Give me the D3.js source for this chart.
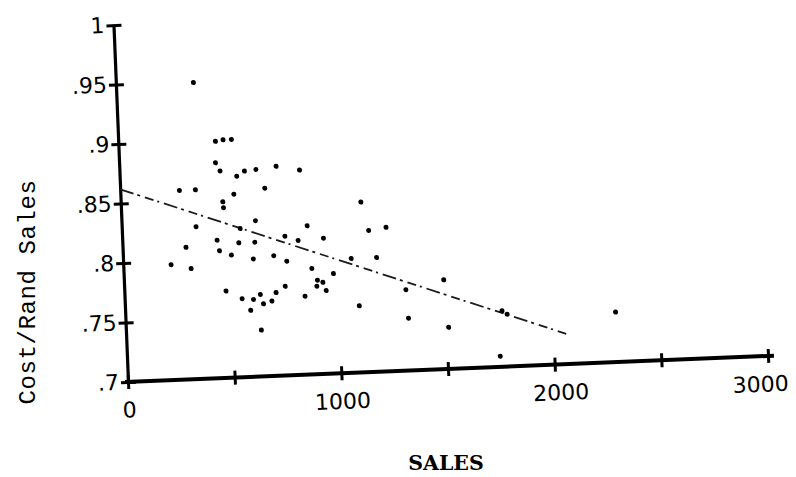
<!DOCTYPE html>
<html>
<head>
<meta charset="utf-8">
<script src="https://cdn.jsdelivr.net/npm/d3@7"></script>
<style>
  html, body { margin: 0; padding: 0; background: #fff; }
  svg { display: block; }
</style>
</head>
<body>
<script>
// Sales figures for each outlet and the matching cost per rand of sales
const sales = [
  363, 455, 491, 530, 451, 471, 548, 585, 639, 734,
  843, 277, 352, 531, 677, 478, 480, 627, 348, 554,
  868, 762, 823, 942, 444, 545, 620, 297, 453, 508,
  610, 706, 766, 224, 317, 882, 982, 906, 931, 902,
  945, 476, 754, 710, 636, 550, 603, 689, 649, 845,
  588, 634, 1124, 1155, 1237, 1068, 1187, 1497, 1318, 1097,
  1325, 1511, 1764, 1787, 1747, 2295
];
const costRatio = [
  0.949, 0.899, 0.900, 0.900, 0.881, 0.874, 0.869, 0.873, 0.874, 0.876,
  0.872, 0.859, 0.859, 0.854, 0.858, 0.848, 0.843, 0.831, 0.828, 0.825,
  0.825, 0.817, 0.813, 0.814, 0.816, 0.813, 0.813, 0.811, 0.807, 0.803,
  0.799, 0.801, 0.796, 0.797, 0.793, 0.789, 0.784, 0.779, 0.777, 0.774,
  0.770, 0.773, 0.775, 0.770, 0.769, 0.766, 0.765, 0.763, 0.761, 0.766,
  0.756, 0.739, 0.843, 0.819, 0.821, 0.796, 0.796, 0.775, 0.768, 0.756,
  0.744, 0.735, 0.747, 0.744, 0.709, 0.742
];

// Fitted regression line (endpoints in data units)
const trendSales = [0, 2060];
const trendCost = [0.862, 0.7255];

// Axis ticks and their printed labels
const xTickValues = [0, 500, 1000, 1500, 2000, 2500, 3000];
const xLabelValues = [0, 1000, 2000, 3000];
const yTickValues = [0.7, 0.75, 0.8, 0.85, 0.9, 0.95, 1];
const yTickLabels = [".7", ".75", ".8", ".85", ".9", ".95", "1"];

const W = 796, H = 477;
const svg = d3.select("body").append("svg")
  .attr("width", W).attr("height", H)
  .style("background", "#fff");

// The whole plotting frame sits slightly tilted on the page
const plot = svg.append("g")
  .attr("transform", "translate(128,382) rotate(-2.33)");

const x = d3.scaleLinear().domain([0, 3000]).range([0, 640.5]);
const y = d3.scaleLinear().domain([0.7, 1]).range([0, -357.2]);

// Y axis
const yAxis = d3.axisLeft(y)
  .tickValues(yTickValues)
  .tickFormat((d, i) => yTickLabels[i])
  .tickSize(0)
  .tickSizeOuter(0)
  .tickPadding(9);
const gy = plot.append("g").call(yAxis)
  .attr("font-family", "'DejaVu Sans', sans-serif")
  .attr("font-size", 22);
gy.select(".domain").attr("stroke", "#000").attr("stroke-width", 3.2);
gy.selectAll(".tick text").attr("fill", "#000");
gy.selectAll(".tick").append("line")
  .attr("x1", -7).attr("x2", 8)
  .attr("stroke", "#000").attr("stroke-width", 3);

// X axis (typed labels sit a little off-centre on the last two ticks)
const xLabelNudge = { 2000: 5, 3000: -9 };
const xAxis = d3.axisBottom(x)
  .tickValues(xTickValues)
  .tickFormat(d => xLabelValues.includes(d) ? String(d) : "")
  .tickSize(0)
  .tickSizeOuter(0)
  .tickPadding(20);
const gx = plot.append("g").call(xAxis)
  .attr("font-family", "'DejaVu Sans', sans-serif")
  .attr("font-size", 22);
gx.select(".domain").remove();
gx.selectAll(".tick text")
  .attr("fill", "#000")
  .attr("dx", d => xLabelNudge[d] || 0);
gx.selectAll(".tick").append("line")
  .attr("y1", -7).attr("y2", 7)
  .attr("stroke", "#000").attr("stroke-width", 3);
plot.append("line")
  .attr("x1", x(0) - 3).attr("x2", x(3000) + 6)
  .attr("y1", 0).attr("y2", 0)
  .attr("stroke", "#000").attr("stroke-width", 4);

// Regression line
plot.append("line")
  .attr("x1", x(trendSales[0])).attr("y1", y(trendCost[0]))
  .attr("x2", x(trendSales[1])).attr("y2", y(trendCost[1]))
  .attr("stroke", "#1a1a1a")
  .attr("stroke-width", 1.8)
  .attr("stroke-dasharray", "14,4,3,5,9,4,2,5");

// Observations
plot.selectAll("circle.obs")
  .data(sales)
  .join("circle")
  .attr("class", "obs")
  .attr("cx", d => x(d))
  .attr("cy", (d, i) => y(costRatio[i]))
  .attr("r", 2.5)
  .attr("fill", "#000");

// Axis titles
svg.append("text")
  .attr("transform", "translate(35,292) rotate(-90)")
  .attr("text-anchor", "middle")
  .attr("font-family", "'Liberation Mono', monospace")
  .attr("font-size", 24)
  .attr("letter-spacing", 0.6)
  .attr("fill", "#000")
  .text("Cost/Rand Sales");

svg.append("text")
  .attr("x", 446).attr("y", 470)
  .attr("text-anchor", "middle")
  .attr("font-family", "'DejaVu Serif', serif")
  .attr("font-weight", "bold")
  .attr("font-size", 20.5)
  .attr("fill", "#000")
  .text("SALES");
</script>
</body>
</html>
